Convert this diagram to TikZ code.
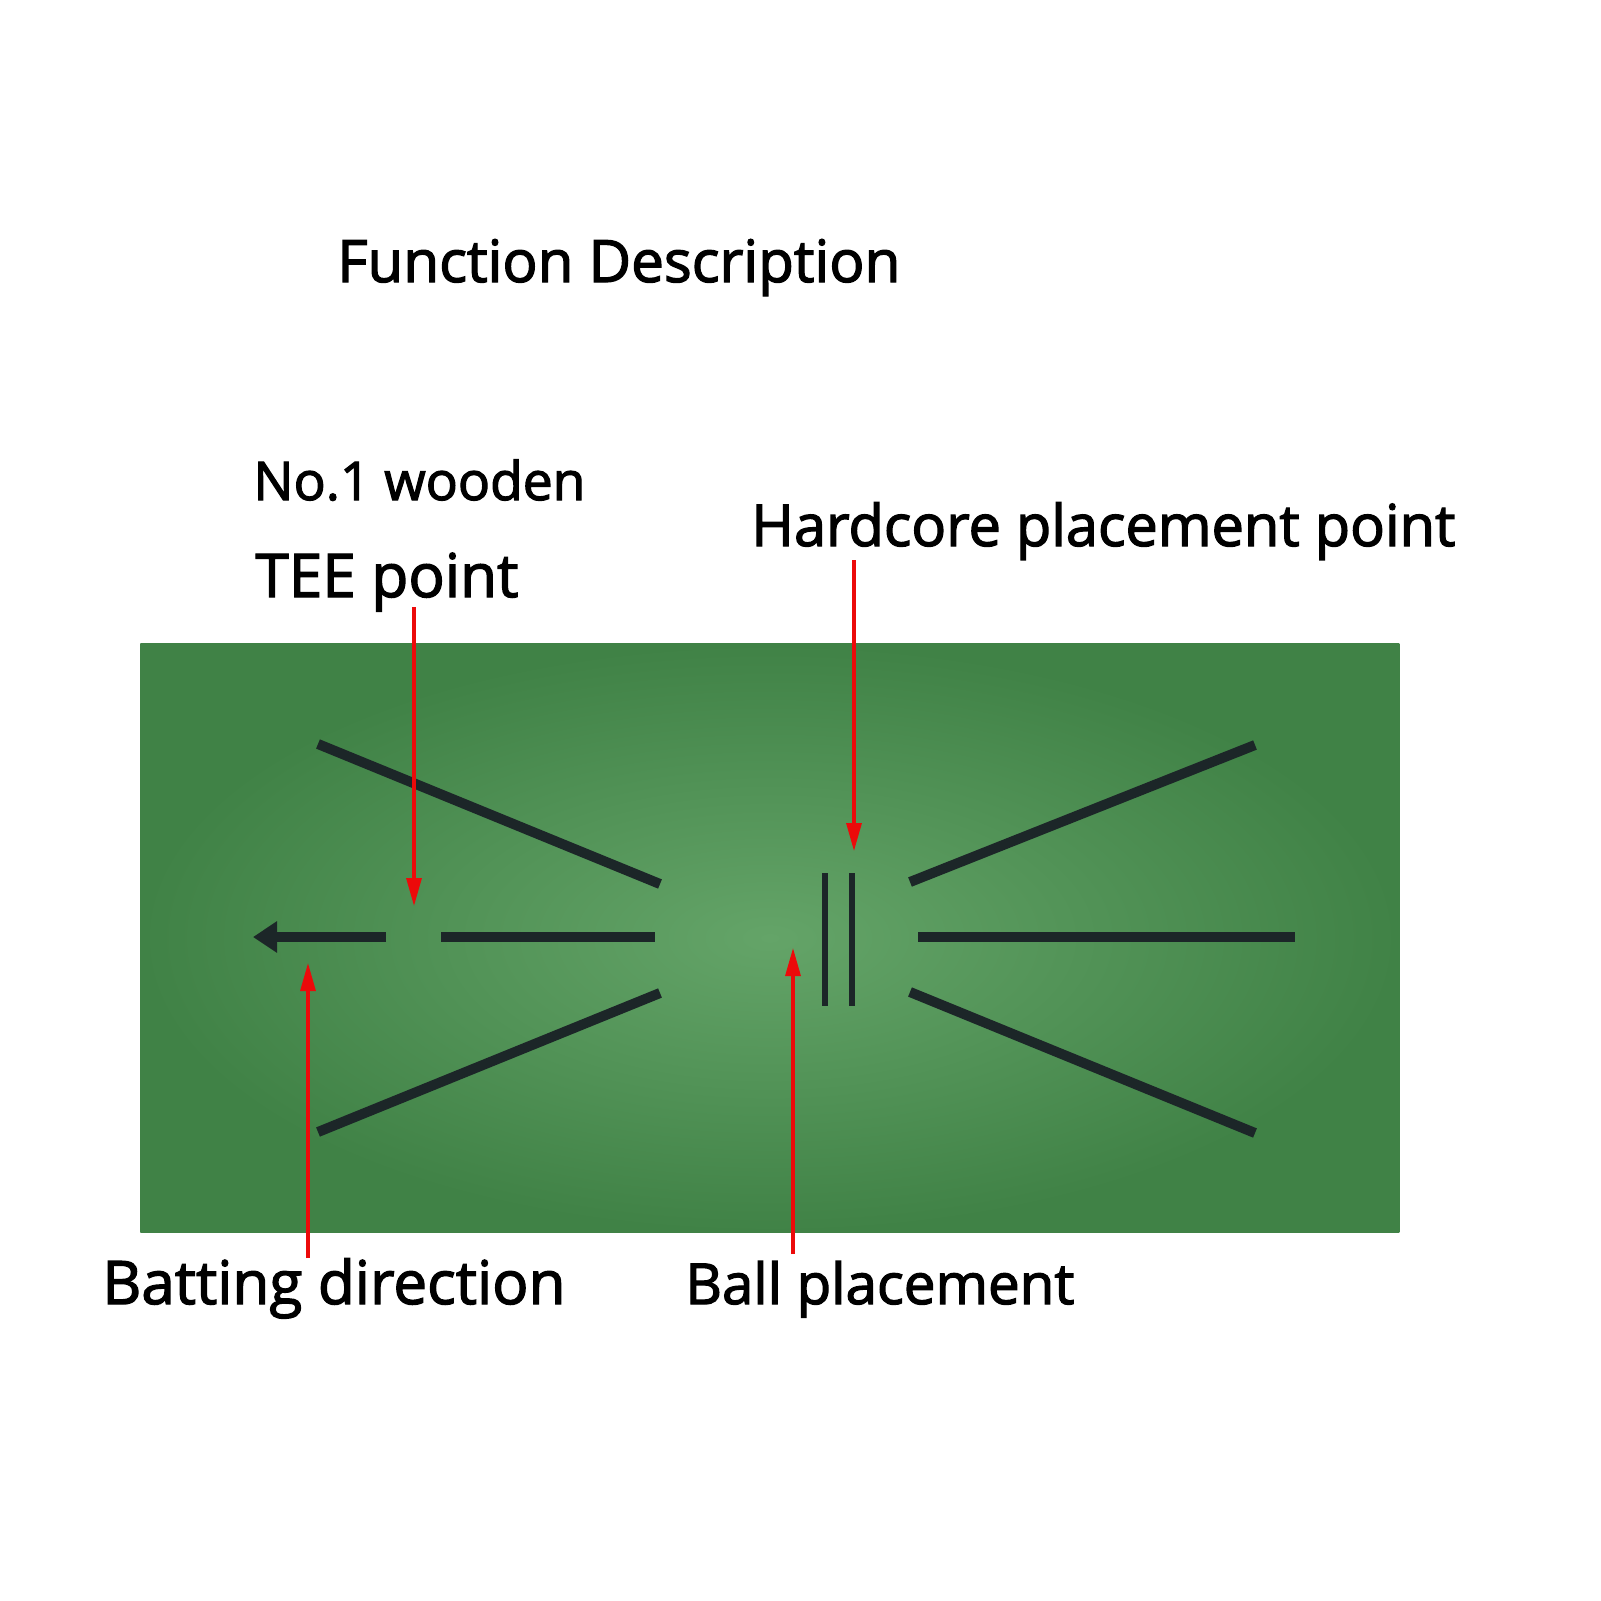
\documentclass[tikz,border=0pt]{standalone}
\usepackage{fontspec}
\setmainfont{Open Sans}
\newfontfamily\lblfont[UprightFeatures={FakeBold=2.2}]{Open Sans}
\usetikzlibrary{arrows.meta}
\definecolor{matout}{RGB}{64,130,70}
\definecolor{matin}{RGB}{100,164,104}
\definecolor{ink}{RGB}{28,38,40}
\definecolor{redarr}{RGB}{236,10,10}
\newcommand{\fitw}[2]{\resizebox{#1}{!}{#2}}
\begin{document}
\begin{tikzpicture}[x=0.5pt,y=-0.5pt,
  lbl/.style={inner sep=0pt,anchor=base west,font=\fontsize{30}{36}\lblfont},
  inkline/.style={draw=ink,line width=5pt},
  thininkline/.style={draw=ink,line width=3pt},
  pointer/.style={draw=redarr,line width=1.6pt,-{Triangle[length=14pt,width=7.5pt]}}]
\useasboundingbox (0,0) rectangle (1601,1601);
\fill[white] (0,0) rectangle (1601,1601);
% mat
\node[inner sep=0pt,minimum width=629.5pt,minimum height=294.5pt,anchor=north west,
  inner color=matin,outer color=matout] (mat) at (140,643) {};
% title and labels
\node[lbl] (title) at (337,282) {\fitw{281.5pt}{Function Description}};
\node[lbl] (wood) at (253,500) {\fitw{166pt}{No.1 wooden}};
\node[lbl] (tee) at (255,597) {\fitw{131.5pt}{TEE point}};
\node[lbl] (hard) at (751,546) {\fitw{352pt}{Hardcore placement point}};
\node[lbl] (bat) at (102,1304) {\fitw{231.5pt}{Batting direction}};
\node[lbl] (ball) at (685,1304) {\fitw{194.5pt}{Ball placement}};
% black marks
\coordinate (ul1) at (318,744); \coordinate (ul2) at (660,884);
\coordinate (ll1) at (318,1132); \coordinate (ll2) at (660,993);
\coordinate (ur1) at (910,882); \coordinate (ur2) at (1255,745);
\coordinate (lr1) at (910,992); \coordinate (lr2) at (1255,1133);
\coordinate (arrS) at (386,937); \coordinate (arrT) at (253,937);
\coordinate (md1) at (441,937); \coordinate (md2) at (655,937);
\coordinate (rm1) at (918,937); \coordinate (rm2) at (1295,937);
\coordinate (v1a) at (825,873); \coordinate (v1b) at (825,1006);
\coordinate (v2a) at (852,873); \coordinate (v2b) at (852,1006);
\draw[inkline] (ul1) -- (ul2);
\draw[inkline] (ll1) -- (ll2);
\draw[inkline] (ur1) -- (ur2);
\draw[inkline] (lr1) -- (lr2);
\draw[inkline,-{Triangle[length=12pt,width=15pt]}] (arrS) -- (arrT);
\draw[inkline] (md1) -- (md2);
\draw[inkline] (rm1) -- (rm2);
\draw[thininkline] (v1a) -- (v1b);
\draw[thininkline] (v2a) -- (v2b);
% red pointers
\coordinate (p1s) at (414,607); \coordinate (p1e) at (414,906);
\coordinate (p2s) at (854,560); \coordinate (p2e) at (854,851);
\coordinate (p3s) at (308,1258); \coordinate (p3e) at (308,963);
\coordinate (p4s) at (793,1254); \coordinate (p4e) at (793,948);
\draw[pointer] (p1s) -- (p1e);
\draw[pointer] (p2s) -- (p2e);
\draw[pointer] (p3s) -- (p3e);
\draw[pointer] (p4s) -- (p4e);
\end{tikzpicture}
\end{document}
